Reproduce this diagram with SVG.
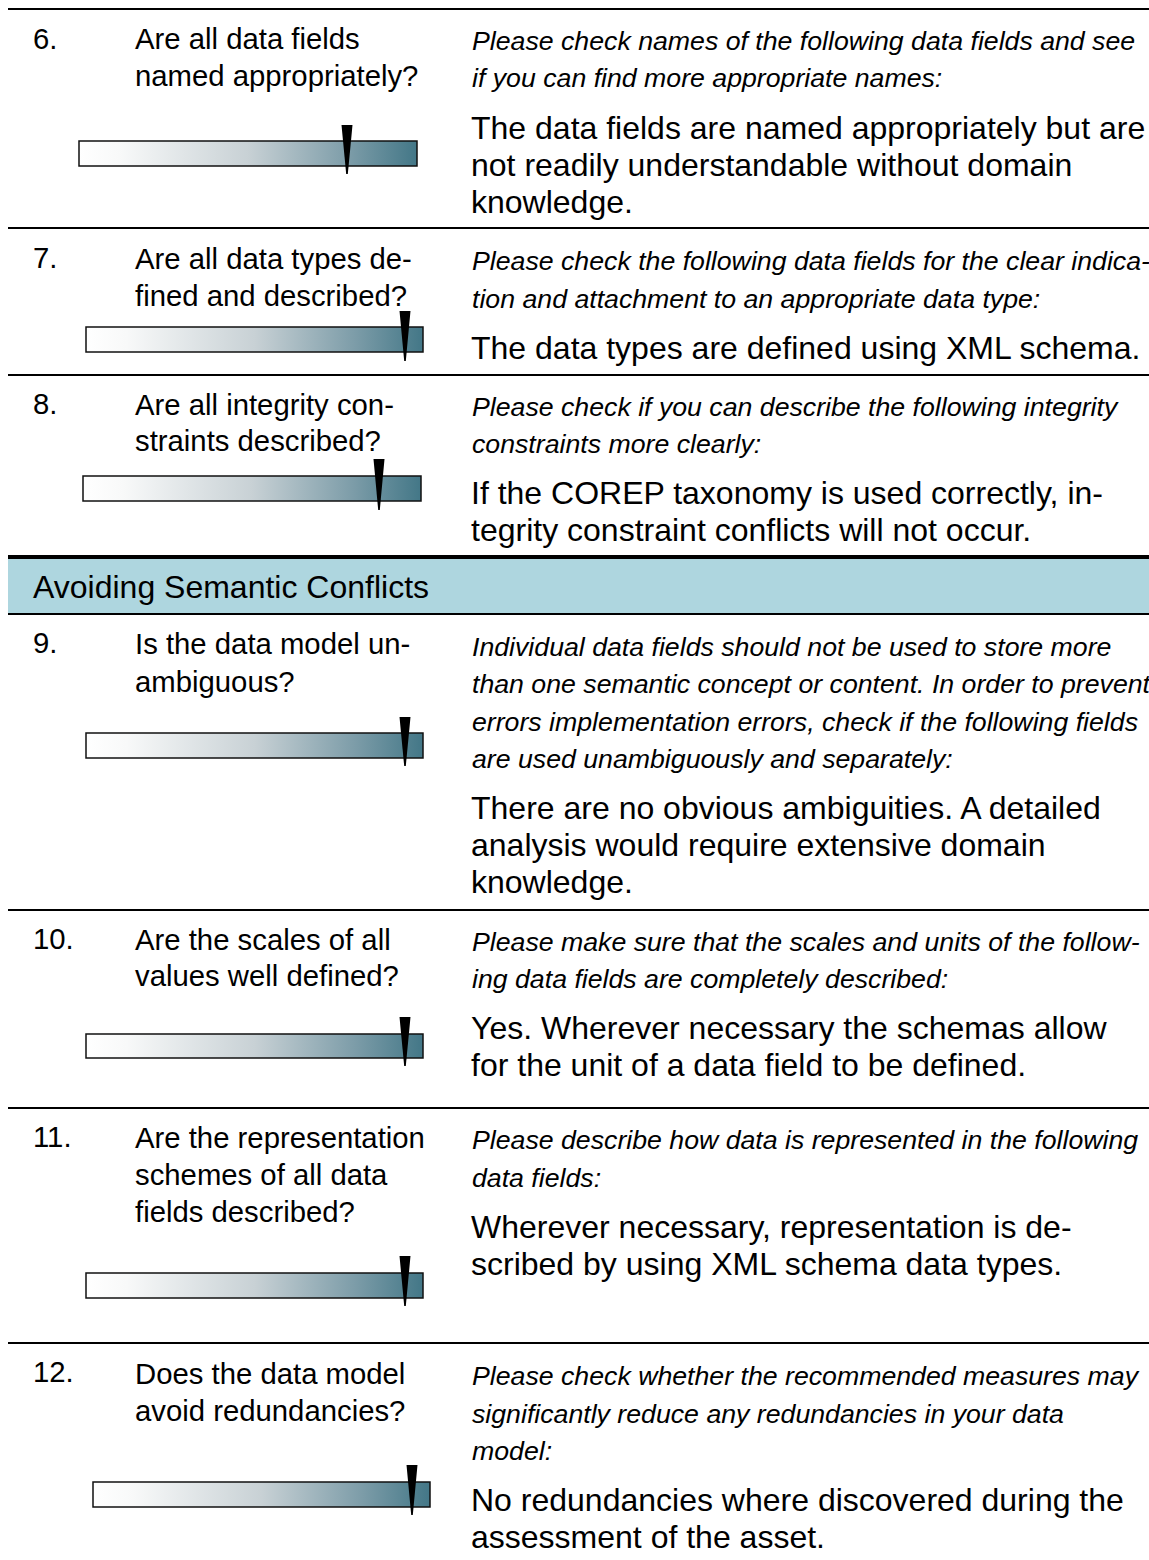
<svg xmlns="http://www.w3.org/2000/svg" width="1149" height="1560" viewBox="0 0 1149 1560">
<style>
.num{font-family:"Liberation Sans",Arial,sans-serif;font-size:29.3px;fill:#000}
.q{font-family:"Liberation Sans",Arial,sans-serif;font-size:29.3px;fill:#000}
.it{font-family:"Liberation Sans",Arial,sans-serif;font-size:26.7px;font-style:italic;fill:#000}
.ans{font-family:"Liberation Sans",Arial,sans-serif;font-size:32px;fill:#000}
.hdr{font-family:"Liberation Sans",Arial,sans-serif;font-size:32px;fill:#000}
.sep{stroke:#000;stroke-width:2;fill:none}
.bar{fill:url(#grad);stroke:#111;stroke-width:1.5}
.mk{fill:#000}
</style>
<defs>
<linearGradient id="grad" x1="0" y1="0" x2="1" y2="0">
<stop offset="0" stop-color="#ffffff"/>
<stop offset="0.12" stop-color="#f8f9f9"/>
<stop offset="0.5" stop-color="#c8d1d5"/>
<stop offset="0.8" stop-color="#7c9ca8"/>
<stop offset="1" stop-color="#437787"/>
</linearGradient>
</defs>
<rect width="1149" height="1560" fill="#fff"/>

<g id="lines">
<line class="sep" x1="8" y1="9" x2="1149" y2="9"/>
<line class="sep" x1="8" y1="228" x2="1149" y2="228"/>
<line class="sep" x1="8" y1="375" x2="1149" y2="375"/>
<line x1="8" y1="557" x2="1149" y2="557" stroke="#000" stroke-width="4"/>
<line class="sep" x1="8" y1="910" x2="1149" y2="910"/>
<line class="sep" x1="8" y1="1108" x2="1149" y2="1108"/>
<line class="sep" x1="8" y1="1343" x2="1149" y2="1343"/>
</g>

<g id="row6">
<text class="num" x="33" y="49">6.</text>
<text class="q" x="135" y="49">Are all data fields</text>
<text class="q" x="135" y="86">named appropriately?</text>
<text class="it" x="472" y="50">Please check names of the following data fields and see</text>
<text class="it" x="472" y="87">if you can find more appropriate names:</text>
<text class="ans" x="471" y="139">The data fields are named appropriately but are</text>
<text class="ans" x="471" y="176">not readily understandable without domain</text>
<text class="ans" x="471" y="213">knowledge.</text>
<rect class="bar" x="79" y="141" width="338" height="25"/>
<polygon class="mk" points="341.5,125 352.5,125 347.8,174 346.2,174"/>
</g>

<g id="row7">
<text class="num" x="33" y="268">7.</text>
<text class="q" x="135" y="269">Are all data types de-</text>
<text class="q" x="135" y="306">fined and described?</text>
<text class="it" x="472" y="270">Please check the following data fields for the clear indica-</text>
<text class="it" x="472" y="308">tion and attachment to an appropriate data type:</text>
<text class="ans" x="471" y="359">The data types are defined using XML schema.</text>
<rect class="bar" x="86" y="327" width="337" height="25"/>
<polygon class="mk" points="399.5,311 410.5,311 405.8,361 404.2,361"/>
</g>

<g id="row8">
<text class="num" x="33" y="414">8.</text>
<text class="q" x="135" y="415">Are all integrity con-</text>
<text class="q" x="135" y="451">straints described?</text>
<text class="it" x="472" y="416">Please check if you can describe the following integrity</text>
<text class="it" x="472" y="453">constraints more clearly:</text>
<text class="ans" x="471" y="504">If the COREP taxonomy is used correctly, in-</text>
<text class="ans" x="471" y="541">tegrity constraint conflicts will not occur.</text>
<rect class="bar" x="83" y="476" width="338" height="25"/>
<polygon class="mk" points="373.5,459 384.5,459 379.8,510 378.2,510"/>
</g>

<g id="header">
<rect x="8" y="559" width="1141" height="55" fill="#aed6df"/>
<line class="sep" x1="8" y1="614" x2="1149" y2="614"/>
<text class="hdr" x="33" y="598">Avoiding Semantic Conflicts</text>
</g>

<g id="row9">
<text class="num" x="33" y="653">9.</text>
<text class="q" x="135" y="654">Is the data model un-</text>
<text class="q" x="135" y="692">ambiguous?</text>
<text class="it" x="472" y="656">Individual data fields should not be used to store more</text>
<text class="it" x="472" y="693">than one semantic concept or content. In order to prevent</text>
<text class="it" x="472" y="731">errors implementation errors, check if the following fields</text>
<text class="it" x="472" y="768">are used unambiguously and separately:</text>
<text class="ans" x="471" y="819">There are no obvious ambiguities. A detailed</text>
<text class="ans" x="471" y="856">analysis would require extensive domain</text>
<text class="ans" x="471" y="893">knowledge.</text>
<rect class="bar" x="86" y="733" width="337" height="25"/>
<polygon class="mk" points="399.5,717 410.5,717 405.8,766 404.2,766"/>
</g>

<g id="row10">
<text class="num" x="33" y="949">10.</text>
<text class="q" x="135" y="950">Are the scales of all</text>
<text class="q" x="135" y="986">values well defined?</text>
<text class="it" x="472" y="951">Please make sure that the scales and units of the follow-</text>
<text class="it" x="472" y="988">ing data fields are completely described:</text>
<text class="ans" x="471" y="1039">Yes. Wherever necessary the schemas allow</text>
<text class="ans" x="471" y="1076">for the unit of a data field to be defined.</text>
<rect class="bar" x="86" y="1034" width="337" height="24"/>
<polygon class="mk" points="399.5,1017 410.5,1017 405.8,1066 404.2,1066"/>
</g>

<g id="row11">
<text class="num" x="33" y="1147">11.</text>
<text class="q" x="135" y="1148">Are the representation</text>
<text class="q" x="135" y="1185">schemes of all data</text>
<text class="q" x="135" y="1222">fields described?</text>
<text class="it" x="472" y="1149">Please describe how data is represented in the following</text>
<text class="it" x="472" y="1187">data fields:</text>
<text class="ans" x="471" y="1238">Wherever necessary, representation is de-</text>
<text class="ans" x="471" y="1275">scribed by using XML schema data types.</text>
<rect class="bar" x="86" y="1273" width="337" height="25"/>
<polygon class="mk" points="399.5,1256 410.5,1256 405.8,1306 404.2,1306"/>
</g>

<g id="row12">
<text class="num" x="33" y="1382">12.</text>
<text class="q" x="135" y="1384">Does the data model</text>
<text class="q" x="135" y="1421">avoid redundancies?</text>
<text class="it" x="472" y="1385">Please check whether the recommended measures may</text>
<text class="it" x="472" y="1423">significantly reduce any redundancies in your data</text>
<text class="it" x="472" y="1460">model:</text>
<text class="ans" x="471" y="1511">No redundancies where discovered during the</text>
<text class="ans" x="471" y="1548">assessment of the asset.</text>
<rect class="bar" x="93" y="1482" width="337" height="25"/>
<polygon class="mk" points="406.5,1465 417.5,1465 412.8,1515 411.2,1515"/>
</g>
</svg>
